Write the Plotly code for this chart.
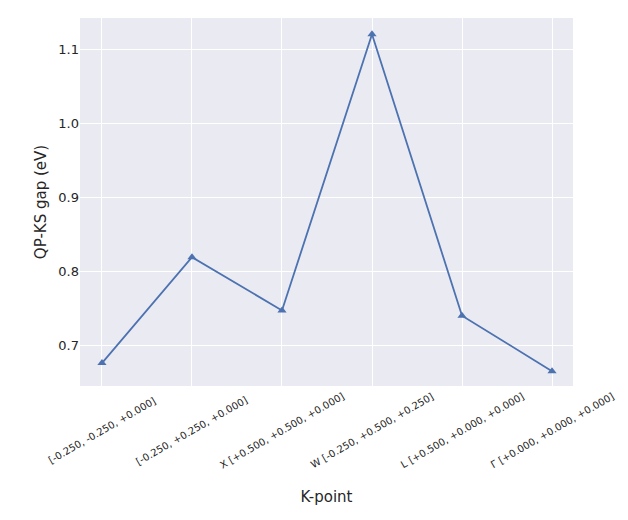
import plotly.graph_objects as go

kpoints = ["[-0.250, -0.250, +0.000]", "[-0.250, +0.250, +0.000]", "X [+0.500, +0.500, +0.000]",
           "W [-0.250, +0.500, +0.250]", "L [+0.500, +0.000, +0.000]", "Γ [+0.000, +0.000, +0.000]"]
gaps = [0.676, 0.819, 0.747, 1.120, 0.740, 0.665]
xs = list(range(len(kpoints)))

fig = go.Figure(go.Scatter(x=xs, y=gaps, mode="lines+markers",
                           line=dict(color="#4c72b0", width=1.8),
                           marker=dict(symbol="triangle-up", size=8, color="#4c72b0")))
for i, lab in zip(xs, kpoints):
    fig.add_annotation(x=i, y=-0.12, xref="x", yref="paper", text=lab, showarrow=False,
                       textangle=-30, font=dict(size=10, color="#262626"),
                       xanchor="center", yanchor="middle")
fig.update_layout(
    width=628, height=520, plot_bgcolor="#eaeaf2", paper_bgcolor="white",
    margin=dict(l=72, r=63, t=10, b=142, autoexpand=False),
    font=dict(family="DejaVu Sans", color="#262626"), showlegend=False,
    xaxis=dict(tickmode="array", tickvals=xs, showticklabels=False, range=[-0.244, 5.233],
               gridcolor="white", gridwidth=1.3, zeroline=False, automargin=False,
               title=dict(text="K-point", font=dict(size=15), standoff=105)),
    yaxis=dict(range=[0.645, 1.142], tickvals=[0.7, 0.8, 0.9, 1.0, 1.1],
               tickformat=".1f", tickfont=dict(size=13), automargin=False,
               gridcolor="white", gridwidth=1.3, zeroline=False,
               title=dict(text="QP-KS gap (eV)", font=dict(size=15), standoff=8)),
)
fig.write_html("out.html")
